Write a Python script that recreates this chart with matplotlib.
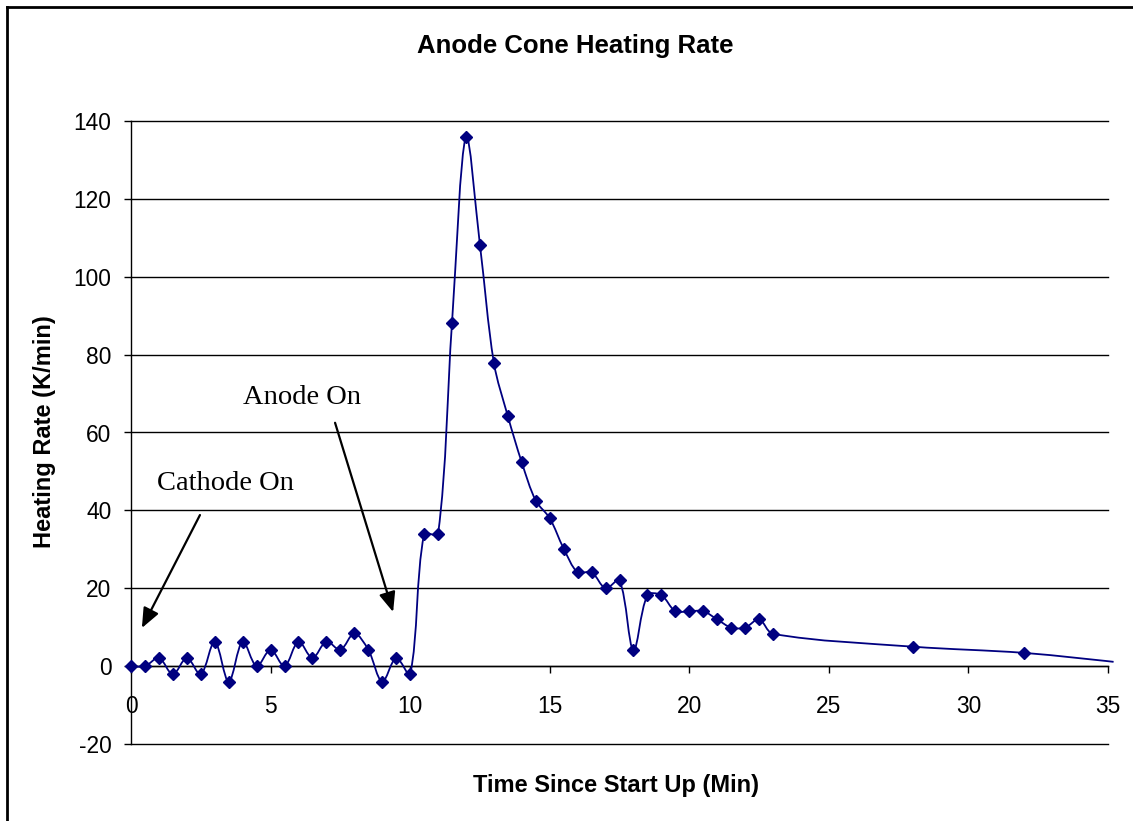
# --------------------------------------------
# IMPORTS
# --------------------------------------------

import numpy as np
import matplotlib
matplotlib.use("Agg")
import matplotlib.pyplot as plt
from matplotlib.path import Path
from matplotlib.patches import PathPatch
from matplotlib.lines import Line2D

plt.rcParams["axes.unicode_minus"] = False

# --------------------------------------------
# DATA
# --------------------------------------------

time_min = [0, 0.5, 1, 1.5, 2, 2.5, 3, 3.5, 4, 4.5, 5, 5.5, 6, 6.5, 7, 7.5, 8, 8.5, 9, 9.5, 10,
            10.5, 11, 11.5, 12, 12.5, 13, 13.5, 14, 14.5, 15, 15.5, 16, 16.5, 17, 17.5, 18,
            18.5, 19, 19.5, 20, 20.5, 21, 21.5, 22, 22.5, 23, 28, 32, 35.2]
heating_rate = [0, 0, 2.1, -2.1, 2.1, -2.1, 6.3, -4.0, 6.3, 0, 4.2, 0, 6.3, 2.1, 6.3, 4.2, 8.4, 4.2, -4.0, 2.1, -2.1,
                33.9, 33.9, 88.2, 136.0, 108.2, 77.9, 64.2, 52.3, 42.5, 38.0, 30.2, 24.1, 24.1, 20.0, 22.0, 4.1,
                18.2, 18.2, 14.1, 14.1, 14.1, 12.0, 9.9, 9.9, 12.0, 8.3, 5.0, 3.4, 1.1]
# the last point has no marker in the original chart
n_marked = len(time_min) - 1

x_ticks = [0, 5, 10, 15, 20, 25, 30, 35]
y_ticks = [-20, 0, 20, 40, 60, 80, 100, 120, 140]

NAVY = "#000080"
SANS = "Liberation Sans"
SERIF = "Liberation Serif"


# --------------------------------------------
# FUNCTIONS
# --------------------------------------------

def smooth_path(ax, xs, ys):
    # Excel-like smoothed line: cubic bezier segments in display space,
    # tangents scaled by chord lengths so short flat steps stay flat
    pts = ax.transData.transform(np.column_stack([xs, ys]))
    n = len(pts)
    verts = [pts[0]]
    codes = [Path.MOVETO]

    def tangent(i, side):
        if i == 0 or i == n - 1:
            return np.zeros(2)
        d_prev = np.linalg.norm(pts[i] - pts[i - 1])
        d_next = np.linalg.norm(pts[i + 1] - pts[i])
        share = d_next if side == "out" else d_prev
        return (pts[i + 1] - pts[i - 1]) * share / (d_prev + d_next) / 3.0

    for i in range(n - 1):
        c1 = pts[i] + tangent(i, "out")
        c2 = pts[i + 1] - tangent(i + 1, "in")
        verts += [c1, c2, pts[i + 1]]
        codes += [Path.CURVE4] * 3
    return Path(verts, codes)


# --------------------------------------------
# APPLICATION
# --------------------------------------------

fig = plt.figure(figsize=(11.33, 8.21), dpi=100)
ax = fig.add_axes([131 / 1133, 1 - 744 / 821, (1108 - 131) / 1133, (744 - 121) / 821])
ax.set_xlim(0, 35)
ax.set_ylim(-20, 140)

# gridlines
for yv in y_ticks:
    ax.axhline(yv, color="black", linewidth=1.0, zorder=1, clip_on=False)

ax.spines["top"].set_visible(False)
ax.spines["right"].set_visible(False)
ax.spines["left"].set_linewidth(1.0)
ax.spines["bottom"].set_position(("data", 0))
ax.spines["bottom"].set_linewidth(1.0)

ax.set_xticks(x_ticks)
ax.set_yticks(y_ticks)
ax.tick_params(axis="x", direction="out", length=5, width=1.0, pad=16, labelsize=16.4)
ax.tick_params(axis="y", direction="out", length=5, width=1.0, pad=9, labelsize=16.4)
for lab in ax.get_xticklabels() + ax.get_yticklabels():
    lab.set_family(SANS)

# smoothed series line
fig.canvas.draw()
path = smooth_path(ax, time_min, heating_rate)
patch = PathPatch(path, transform=None, fill=False, edgecolor=NAVY, linewidth=1.3, zorder=3)
patch.set_clip_on(False)
fig.add_artist(patch)

ax.plot(time_min[:n_marked], heating_rate[:n_marked], linestyle="none", marker="D",
        markersize=6.2, color=NAVY, zorder=4, clip_on=False)

# annotations
ax.text(3.4, 47.0, "Cathode On", family=SERIF, fontsize=20.5, ha="center", va="center")
ax.text(6.13, 68.9, "Anode On", family=SERIF, fontsize=20.5, ha="center", va="center")
arrow = dict(arrowstyle="-|>,head_length=0.6,head_width=0.25", color="black",
             linewidth=1.6, mutation_scale=20, shrinkA=0, shrinkB=0)
ax.annotate("", xy=(0.39, 9.8), xytext=(2.47, 38.8), arrowprops=arrow)
ax.annotate("", xy=(9.39, 13.9), xytext=(7.31, 62.5), arrowprops=arrow)

# titles
fig.text(575 / 1133, 1 - 46 / 821, "Anode Cone Heating Rate", family=SANS, fontsize=18.5,
         fontweight="bold", ha="center", va="center")
fig.text(616 / 1133, 1 - 785 / 821, "Time Since Start Up (Min)", family=SANS, fontsize=17,
         fontweight="bold", ha="center", va="center")
fig.text(45 / 1133, 1 - 432 / 821, "Heating Rate (K/min)", family=SANS, fontsize=17,
         fontweight="bold", ha="center", va="center", rotation=90)

# chart border (only left and top edges fall inside the picture)
fig.add_artist(Line2D([7 / 1133, 7 / 1133], [0, 1 - 7 / 821], color="black", linewidth=2.0))
fig.add_artist(Line2D([7 / 1133, 1], [1 - 7 / 821, 1 - 7 / 821], color="black", linewidth=2.0))

fig.savefig("out.png", dpi=100)
